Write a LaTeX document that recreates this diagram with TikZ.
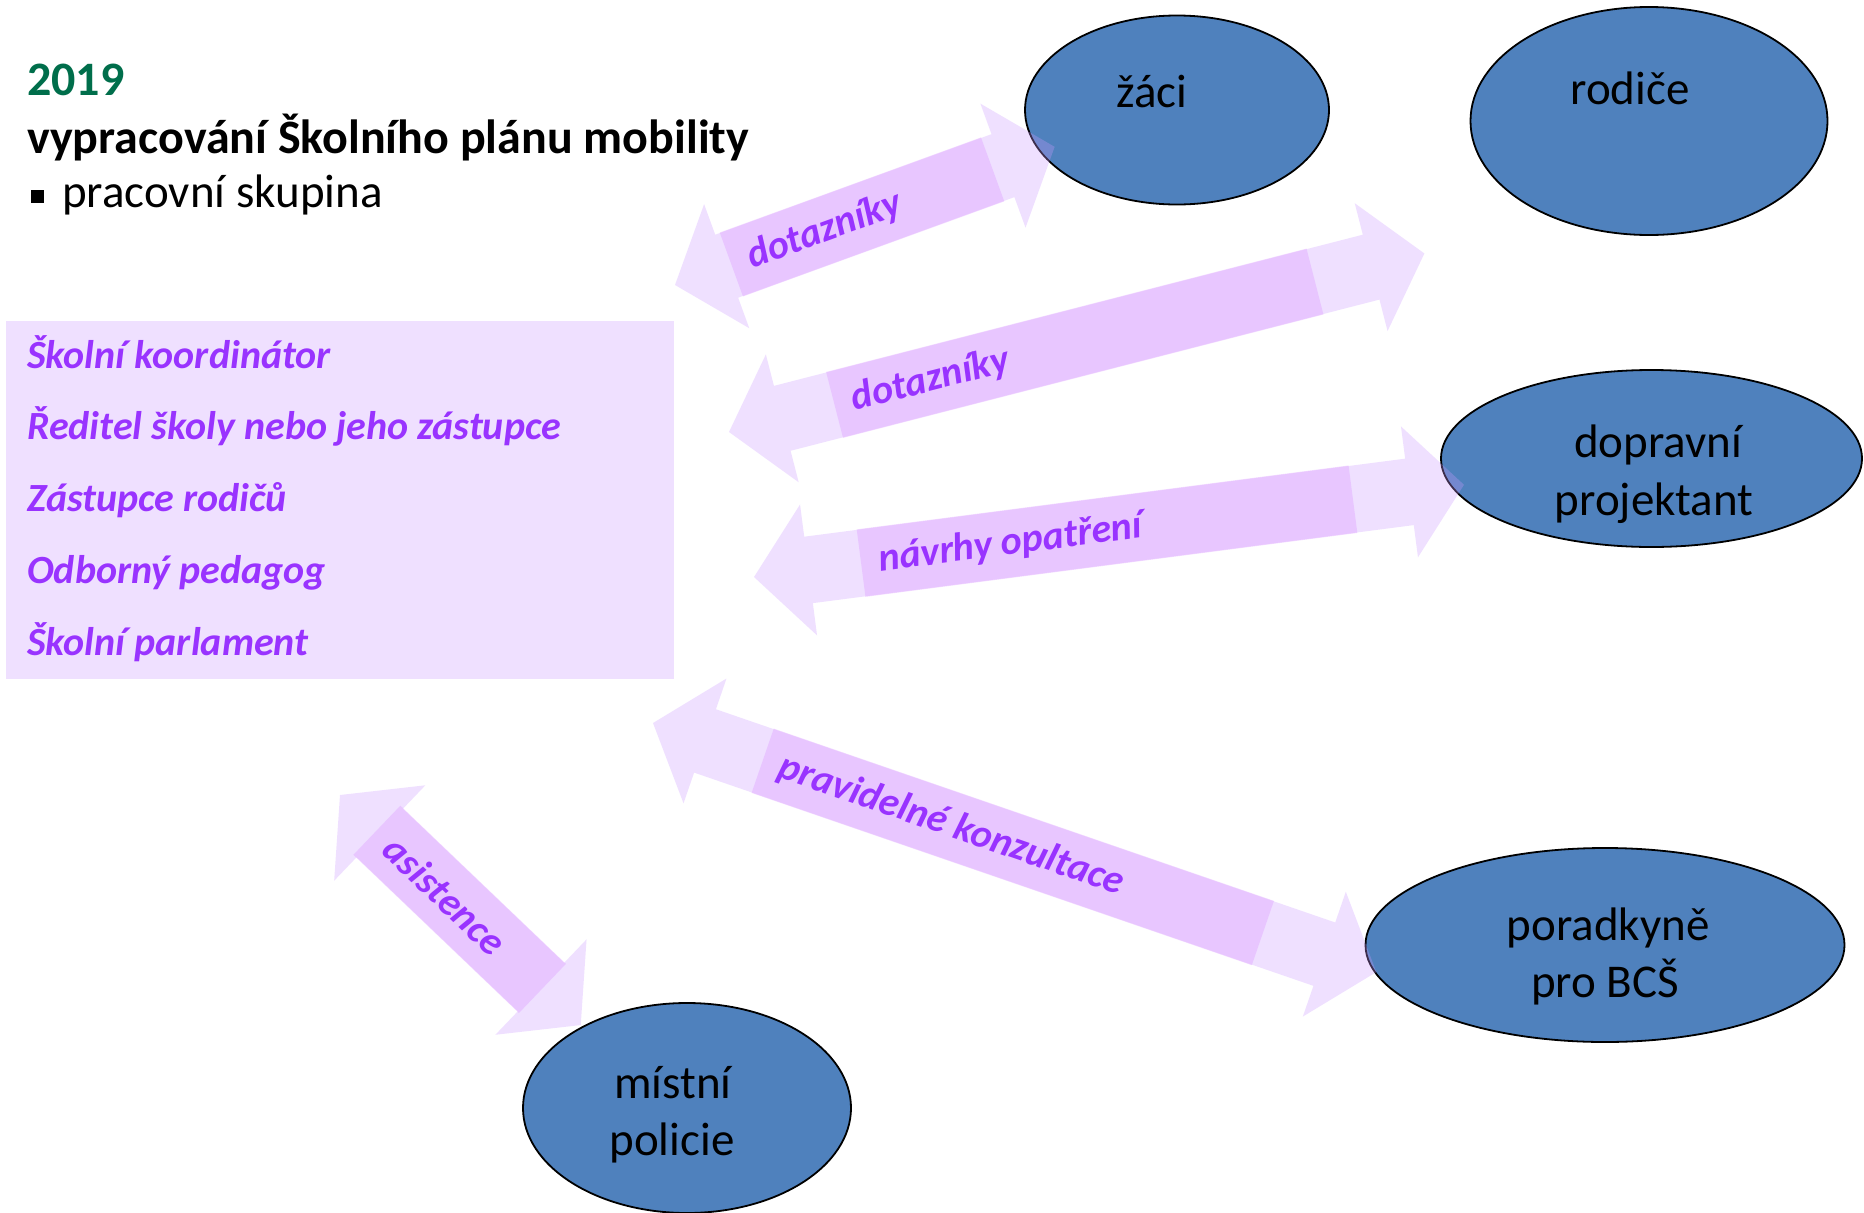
\documentclass[tikz,border=0pt]{standalone}
\usepackage{fontspec}
\setmainfont{Carlito}
\usetikzlibrary{shapes.geometric}

\definecolor{partyblue}{RGB}{79,129,189}
\definecolor{lilac}{RGB}{204,153,255}
\definecolor{notelilac}{RGB}{220,150,255}
\definecolor{notepurple}{RGB}{153,51,255}
\definecolor{yeargreen}{RGB}{0,110,75}

% #1 name, #2 left tip, #3 angle, #4 length, #5 label box start, #6 label box length, #7 text
\newcommand{\flowarrow}[7]{%
  \begin{scope}[shift={(#2)}, rotate=#3]
    \coordinate (#1-a) at (0,0);
    \coordinate (#1-b) at (#4,0);
    \fill[flow] (#1-a) -- (55,-66) -- (55,-33.5) -- ({#4-55},-33.5) -- ({#4-55},-66) -- (#1-b)
      -- ({#4-55},66) -- ({#4-55},33.5) -- (55,33.5) -- (55,66) -- cycle;
    \fill[note] (#5,-34) rectangle ({#5+#6},34);
    \node[notetext, rotate=#3, anchor=west] (#1-t) at ({#5+18},0) {#7};
  \end{scope}}

\begin{document}
\begin{tikzpicture}[x=1pt, y=-1pt,
    bigfont/.style={font=\fontsize{47}{57}\selectfont},
    bigbold/.style={font=\fontsize{48}{58}\selectfont\bfseries},
    party/.style={ellipse, draw=black, line width=1.8pt, fill=partyblue, inner sep=0pt},
    who/.style={bigfont, anchor=base, text=black},
    flow/.style={fill=lilac, fill opacity=0.3},
    note/.style={fill=notelilac, fill opacity=0.35},
    notetext/.style={text=notepurple, inner sep=0pt, font=\fontsize{40}{48}\selectfont\bfseries\itshape},
    member/.style={text=notepurple, inner sep=0pt, anchor=base west, font=\fontsize{40}{48}\selectfont\bfseries\itshape}]
  \path[use as bounding box, fill=white] (0,0) rectangle (1864,1213);

  % heading
  \node[bigbold, anchor=base west, inner sep=0pt, text=yeargreen] (year) at (27,95) {2019};
  \node[bigbold, anchor=base west, inner sep=0pt] (title) at (27,153) {vypracování Školního plánu mobility};
  \node[bigfont, anchor=base west, inner sep=0pt] (group) at (31,207) {\rule[4pt]{13pt}{13pt}\hspace{18pt}pracovní skupina};

  % working group
  \fill[flow] (6,321) rectangle (674,679);
  \foreach \who [count=\i] in {Školní koordinátor, Ředitel školy nebo jeho zástupce, Zástupce rodičů, Odborný pedagog, Školní parlament}
    \node[member] (m\i) at (27,{368+71.8*(\i-1)}) {\who};

  % partners
  \node[party, minimum width=304pt, minimum height=189pt] (zaci) at (1177,110) {};
  \node[party, minimum width=357pt, minimum height=228pt] (rodice) at (1649,121) {};
  \node[party, minimum width=421pt, minimum height=177pt] (projektant) at (1651.5,458.5) {};
  \node[party, minimum width=479pt, minimum height=194pt] (poradkyne) at (1605,945) {};
  \node[party, minimum width=328pt, minimum height=210pt] (policie) at (687,1108) {};

  \node[who] (zaci-t) at (1152,107) {žáci};
  \node[who] (rodice-t) at (1630,104) {rodiče};
  \node[who] (projektant-t1) at (1658,457) {dopravní};
  \node[who] (projektant-t2) at (1654,515) {projektant};
  \node[who] (poradkyne-t1) at (1608,940) {poradkyně};
  \node[who] (poradkyne-t2) at (1605,997) {pro BCŠ};
  \node[who] (policie-t1) at (673,1098) {místní};
  \node[who] (policie-t2) at (672,1155) {policie};

  % block arrows
  \flowarrow{zacilink}{675,285}{20.0}{404}{60}{278}{dotazníky}
  \flowarrow{rodicelink}{729,432}{14.4}{718}{109}{496}{dotazníky}
  \flowarrow{projlink}{754,577}{7.4}{716}{108}{496}{návrhy opatření}
  \flowarrow{poradlink}{653,723}{-19.0}{765}{116}{529}{pravidelné konzultace}
  \flowarrow{policelink}{340,795}{-43.7}{333}{51}{229}{asistence}
\end{tikzpicture}
\end{document}
